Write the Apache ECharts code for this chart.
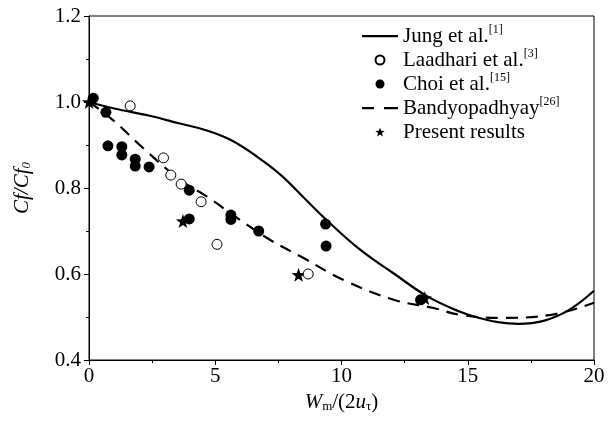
<!DOCTYPE html>
<html><head><meta charset="utf-8">
<script src="https://cdn.jsdelivr.net/npm/echarts@6/dist/echarts.min.js"></script>
<style>html,body{margin:0;padding:0;background:#fff}#c{width:614px;height:421px}</style>
</head><body><div id="c"></div>
<script>
var jungX = [0, 1.0, 2.4, 3.6, 4.6, 5.6, 6.65, 7.6, 8.6, 9.4, 10.75, 12.1, 13.4, 14.7, 15.5, 16.2, 17.0, 18.0, 19.0, 20.0];
var jungY = [1.0, 0.985, 0.968, 0.950, 0.935, 0.912, 0.873, 0.830, 0.772, 0.726, 0.656, 0.600, 0.548, 0.512, 0.497, 0.488, 0.484, 0.491, 0.516, 0.561];
var bandX = [0, 0.95, 2.14, 3.61, 4.67, 6.0, 7.18, 8.5, 10.08, 12.07, 13.65, 14.7, 16.3, 18.3, 20.0];
var bandY = [1.0, 0.958, 0.893, 0.819, 0.780, 0.725, 0.679, 0.637, 0.586, 0.540, 0.521, 0.505, 0.498, 0.505, 0.533];
var laadX = [1.63, 2.95, 3.24, 3.65, 4.44, 5.07, 8.68];
var laadY = [0.991, 0.870, 0.830, 0.809, 0.768, 0.669, 0.600];
var choiX = [0.17, 0.67, 0.75, 1.3, 1.3, 1.83, 1.83, 2.38, 3.97, 3.97, 5.62, 5.62, 6.72, 9.37, 9.39, 13.13];
var choiY = [1.009, 0.976, 0.898, 0.896, 0.877, 0.867, 0.851, 0.849, 0.795, 0.728, 0.737, 0.727, 0.700, 0.716, 0.665, 0.540];
var presX = [0, 3.72, 8.3, 13.3];
var presY = [1.0, 0.723, 0.598, 0.544];
var xTicks = [0, 5, 10, 15, 20];
var yTicks = [0.4, 0.6, 0.8, 1.0, 1.2];

function pairs(xs, ys) { return xs.map(function (x, i) { return [x, ys[i]]; }); }
var FONT = 'Liberation Serif';
var STAR = 'path://M0,-10 L2.35,-3.24 L9.51,-3.09 L3.8,1.24 L5.88,8.09 L0,4 L-5.88,8.09 L-3.8,1.24 L-9.51,-3.09 L-2.35,-3.24 Z';
var pad = 'M0,0 L0,0.001 L0.001,0 Z M0,9 L0.001,9 L0,8.999 Z ';
var SOLID_ICON = 'path://' + pad + 'M0,3.5 H36 V5.7 H0 Z';
var DASH_ICON = 'path://' + pad + 'M0,3.5 H12 V5.7 H0 Z M22,3.5 H36 V5.7 H22 Z';
var chart = echarts.init(document.getElementById('c'), null, { renderer: 'canvas' });
var sup = { fontFamily: FONT, fontSize: 12, verticalAlign: 'top', padding: [0, 0, 10, 0], color: '#000' };
var option = {
  animation: false,
  backgroundColor: '#fff',
  textStyle: { fontFamily: FONT, color: '#000' },
  grid: { left: 89, right: 20, top: 16, bottom: 61, show: true, borderColor: '#000', borderWidth: 1, backgroundColor: 'transparent' },
  legend: {
    orient: 'vertical', left: 362, top: 24, padding: 0, itemWidth: 36, itemHeight: 9, itemGap: 0,
    textStyle: { fontFamily: FONT, fontSize: 21, color: '#000', lineHeight: 24,
      rich: { t: { fontFamily: FONT, fontSize: 21, color: '#000' }, s: sup } },
    formatter: function (n) {
      var m = { 'Jung et al.': '{t|Jung et al.}{s|[1]}', 'Laadhari et al.': '{t|Laadhari et al.}{s|[3]}',
        'Choi et al.': '{t|Choi et al.}{s|[15]}', 'Bandyopadhyay': '{t|Bandyopadhyay}{s|[26]}', 'Present results': '{t|Present results}' };
      return m[n];
    },
    data: [
      { name: 'Jung et al.', icon: SOLID_ICON },
      { name: 'Laadhari et al.' },
      { name: 'Choi et al.' },
      { name: 'Bandyopadhyay', icon: DASH_ICON },
      { name: 'Present results' }
    ]
  },
  xAxis: {
    type: 'value', min: 0, max: 20, interval: 5,
    name: '{w|W}{sb|m}{n|/(2}{w|u}{sb|τ}{n|)}', nameLocation: 'middle', nameGap: 29,
    nameTextStyle: { rich: {
      w: { fontFamily: FONT, fontStyle: 'italic', fontSize: 21, color: '#000' },
      n: { fontFamily: FONT, fontSize: 21, color: '#000' },
      sb: { fontFamily: FONT, fontSize: 13, color: '#000', verticalAlign: 'bottom', padding: [8, 0, 0, 0] } } },
    axisLine: { onZero: false, lineStyle: { color: '#000', width: 1 } },
    axisTick: { show: true, inside: false, length: 5, lineStyle: { color: '#000' } },
    minorTick: { show: true, splitNumber: 2, length: 3, lineStyle: { color: '#000' } },
    splitLine: { show: false },
    axisLabel: { fontFamily: FONT, fontSize: 21, color: '#000', margin: 6, formatter: function (v) { return xTicks.indexOf(v) >= 0 ? String(v) : ''; } }
  },
  yAxis: {
    type: 'value', min: 0.4, max: 1.2, interval: 0.2,
    name: '{i|Cf/Cf}{sb|0}', nameLocation: 'middle', nameGap: 56, nameRotate: 90,
    nameTextStyle: { rich: {
      i: { fontFamily: FONT, fontStyle: 'italic', fontSize: 21, color: '#000' },
      sb: { fontFamily: FONT, fontStyle: 'italic', fontSize: 13, color: '#000', verticalAlign: 'bottom', padding: [8, 0, 0, 0] } } },
    axisLine: { onZero: false, lineStyle: { color: '#000', width: 1 } },
    axisTick: { show: true, inside: false, length: 5, lineStyle: { color: '#000' } },
    minorTick: { show: true, splitNumber: 2, length: 3, lineStyle: { color: '#000' } },
    splitLine: { show: false },
    axisLabel: { fontFamily: FONT, fontSize: 21, color: '#000', margin: 8, formatter: function (v) {
      for (var i = 0; i < yTicks.length; i++) if (Math.abs(yTicks[i] - v) < 1e-6) return v.toFixed(1); return ''; } }
  },
  series: [
    { name: 'Jung et al.', type: 'line', data: pairs(jungX, jungY), smooth: 0.4, symbol: 'none',
      lineStyle: { color: '#000', width: 2.2 }, itemStyle: { color: '#000' }, z: 3 },
    { name: 'Laadhari et al.', type: 'scatter', data: pairs(laadX, laadY), symbol: 'circle', symbolSize: 10,
      itemStyle: { color: '#fff', borderColor: '#000', borderWidth: 1, opacity: 1 }, z: 5 },
    { name: 'Choi et al.', type: 'scatter', data: pairs(choiX, choiY), symbol: 'circle', symbolSize: 11,
      itemStyle: { color: '#000', opacity: 1 }, z: 5 },
    { name: 'Bandyopadhyay', type: 'line', data: pairs(bandX, bandY), smooth: 0.4, symbol: 'none',
      lineStyle: { color: '#000', width: 2.2, type: [12, 8] }, itemStyle: { color: '#000' }, z: 3 },
    { name: 'Present results', type: 'scatter', data: pairs(presX, presY), symbol: STAR,
      symbolSize: 14, itemStyle: { color: '#000', opacity: 1 }, z: 4 }
  ]
};
chart.setOption(option);
</script>
</body></html>
